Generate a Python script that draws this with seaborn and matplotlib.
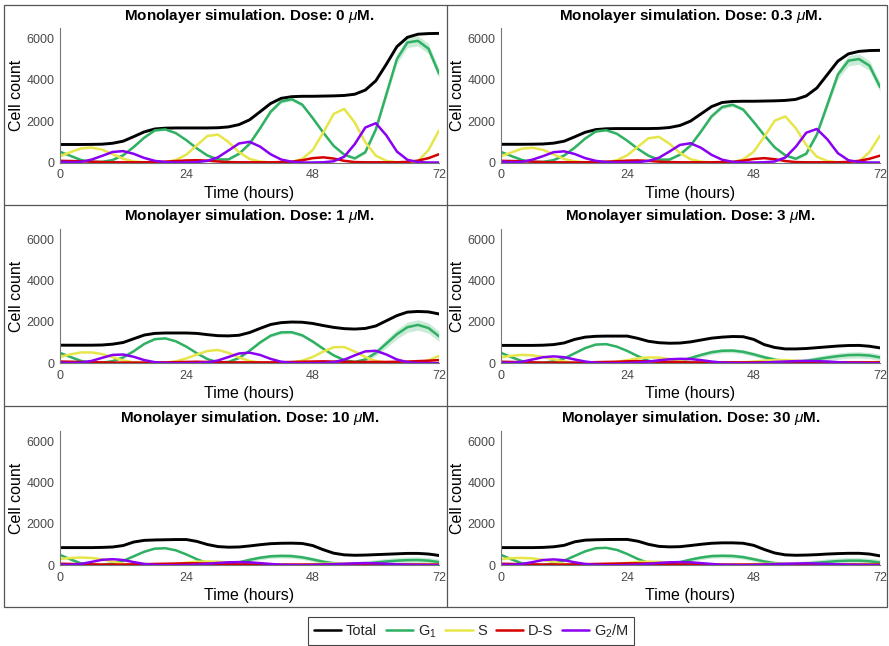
import numpy as np
import pandas as pd
import matplotlib
matplotlib.use("Agg")
import matplotlib.pyplot as plt
import seaborn as sns
from matplotlib.lines import Line2D

# eixo do tempo (horas), amostras a cada 2 h
hours = list(range(0, 73, 2))
doses = ["0", "0.3", "1", "3", "10", "30"]
phases = ["G1", "S", "D-S", "G2/M"]
legend_labels = ["Total", "G$_1$", "S", "D-S", "G$_2$/M"]

# --- Dose 0 uM ---
total_0 = [870, 870, 870, 875, 885, 930, 1030, 1250, 1480, 1620, 1660, 1670, 1670, 1670, 1670, 1680, 1720, 1830, 2060,
           2450, 2850, 3100, 3180, 3200, 3200, 3210, 3220, 3240, 3300, 3500, 3950, 4750, 5600, 6050, 6200, 6230, 6240]
g1_0 = [520, 320, 120, 30, 30, 120, 350, 750, 1200, 1550, 1600, 1420, 1080, 680, 340, 150, 150, 420, 900,
        1650, 2450, 2950, 3060, 2800, 2150, 1450, 800, 380, 200, 500, 1600, 3300, 5000, 5800, 5880, 5500, 4300]
s_0 = [300, 500, 680, 720, 620, 400, 180, 50, 10, 0, 20, 120, 380, 830, 1280, 1350, 990, 500, 175,
       45, 0, 0, 20, 170, 600, 1440, 2350, 2590, 1930, 980, 330, 80, 10, 0, 60, 600, 1550]
ds_0 = [80, 70, 60, 40, 20, 10, 10, 10, 10, 20, 40, 70, 100, 110, 90, 50, 20, 10, 10,
        10, 10, 20, 40, 110, 210, 250, 190, 80, 20, 10, 10, 10, 10, 30, 90, 210, 400]
g2_0 = [40, 10, 30, 140, 320, 510, 550, 420, 220, 80, 20, 0, 0, 20, 80, 250, 580, 920, 1000,
        770, 400, 145, 35, 0, 0, 10, 60, 280, 890, 1690, 1900, 1310, 530, 130, 20, 0, 0]
g1_sd_0 = [30, 30, 30, 30, 30, 30, 30, 40, 40, 40, 40, 40, 40, 40, 40, 40, 40, 50, 60,
           70, 80, 90, 90, 90, 90, 80, 70, 60, 60, 80, 120, 180, 220, 250, 250, 240, 230]

# --- Dose 0.3 uM ---
total_03 = [880, 880, 880, 885, 895, 935, 1030, 1240, 1460, 1590, 1630, 1640, 1640, 1640, 1640, 1650, 1690, 1790, 2000,
            2350, 2700, 2900, 2950, 2960, 2960, 2970, 2980, 3000, 3050, 3220, 3600, 4250, 4900, 5250, 5370, 5410, 5420]
g1_03 = [510, 310, 120, 30, 30, 115, 340, 720, 1160, 1500, 1560, 1390, 1050, 660, 330, 140, 140, 380, 820,
         1500, 2230, 2680, 2790, 2560, 1960, 1320, 730, 350, 180, 430, 1350, 2800, 4250, 4920, 5000, 4680, 3650]
s_03 = [300, 490, 670, 710, 610, 390, 170, 50, 10, 0, 20, 110, 350, 760, 1170, 1240, 910, 460, 160,
        40, 0, 0, 20, 150, 520, 1240, 2020, 2230, 1660, 840, 280, 70, 10, 0, 50, 500, 1300]
ds_03 = [80, 70, 60, 40, 20, 10, 10, 10, 10, 20, 40, 60, 90, 100, 80, 40, 20, 10, 10,
         10, 10, 20, 30, 90, 170, 210, 160, 70, 20, 10, 10, 10, 10, 30, 80, 180, 330]
g2_03 = [40, 10, 30, 140, 310, 500, 540, 410, 210, 80, 20, 0, 0, 20, 75, 230, 530, 850, 930,
         710, 370, 135, 30, 0, 0, 10, 50, 240, 760, 1440, 1620, 1120, 450, 110, 20, 0, 0]
g1_sd_03 = [30, 30, 30, 30, 30, 30, 30, 40, 40, 40, 40, 40, 40, 40, 40, 40, 40, 50, 60,
            70, 80, 90, 90, 90, 90, 80, 70, 60, 60, 80, 120, 180, 220, 250, 250, 240, 230]

# --- Dose 1 uM ---
total_1 = [870, 870, 870, 870, 880, 920, 1000, 1180, 1360, 1440, 1460, 1460, 1460, 1440, 1380, 1330, 1320, 1350, 1480,
           1680, 1870, 1960, 1990, 1980, 1920, 1820, 1730, 1670, 1650, 1680, 1800, 2050, 2300, 2470, 2500, 2480, 2380]
g1_1 = [500, 300, 110, 20, 20, 100, 280, 580, 930, 1160, 1200, 1060, 800, 480, 200, 40, 60, 250, 600,
        1000, 1330, 1490, 1500, 1350, 1050, 700, 380, 150, 60, 180, 500, 950, 1400, 1740, 1850, 1700, 1300]
s_1 = [300, 430, 520, 520, 440, 290, 130, 40, 10, 0, 20, 90, 230, 420, 590, 640, 500, 280, 110,
       30, 0, 0, 30, 120, 300, 560, 770, 780, 560, 300, 110, 30, 0, 0, 30, 130, 350]
ds_1 = [80, 70, 60, 50, 40, 30, 30, 30, 30, 30, 40, 50, 60, 70, 60, 50, 40, 40, 40,
        40, 40, 50, 60, 70, 80, 90, 80, 70, 60, 60, 60, 60, 70, 80, 100, 120, 150]
g2_1 = [30, 10, 30, 110, 260, 400, 420, 310, 150, 50, 10, 0, 0, 10, 40, 130, 300, 470, 510,
        400, 210, 70, 15, 0, 0, 10, 50, 170, 380, 570, 600, 420, 180, 50, 10, 0, 0]
g1_sd_1 = [30, 30, 30, 30, 30, 30, 30, 30, 30, 30, 30, 30, 30, 30, 30, 30, 30, 40, 50,
           60, 70, 80, 80, 80, 80, 70, 60, 60, 70, 100, 150, 200, 230, 250, 250, 250, 250]

# --- Dose 3 uM ---
total_3 = [860, 860, 860, 860, 870, 900, 980, 1150, 1260, 1300, 1310, 1310, 1310, 1200, 1060, 990, 965, 975, 1030,
           1120, 1210, 1260, 1290, 1280, 1150, 900, 760, 690, 690, 710, 750, 790, 830, 855, 860, 820, 740]
g1_3 = [500, 290, 100, 20, 20, 90, 230, 480, 730, 900, 920, 800, 590, 340, 120, 20, 30, 110, 250,
        400, 530, 600, 610, 550, 430, 290, 170, 90, 70, 110, 190, 270, 340, 390, 400, 370, 280]
s_3 = [280, 360, 400, 380, 300, 190, 80, 20, 0, 0, 10, 60, 150, 230, 280, 270, 200, 110, 40,
       10, 0, 0, 10, 40, 80, 120, 150, 150, 120, 80, 40, 20, 10, 10, 20, 40, 60]
ds_3 = [70, 60, 50, 40, 30, 30, 30, 30, 40, 50, 60, 70, 90, 100, 90, 70, 60, 50, 40,
        40, 40, 40, 40, 40, 40, 40, 40, 40, 40, 40, 40, 40, 40, 40, 40, 40, 40]
g2_3 = [30, 20, 70, 180, 290, 330, 290, 180, 80, 20, 0, 0, 10, 30, 80, 140, 190, 210, 200,
        150, 80, 30, 10, 0, 10, 30, 60, 80, 100, 110, 100, 80, 50, 20, 10, 0, 0]
g1_sd_3 = [20, 20, 20, 20, 20, 20, 20, 20, 20, 20, 20, 20, 20, 20, 20, 20, 30, 50, 80,
           100, 100, 100, 100, 100, 100, 100, 100, 110, 120, 130, 140, 150, 150, 150, 150, 150, 150]

# --- Dose 10 uM ---
total_10 = [850, 850, 850, 850, 860, 880, 950, 1120, 1200, 1220, 1230, 1240, 1240, 1150, 1000, 900, 870, 880, 930,
            990, 1040, 1060, 1065, 1050, 950, 750, 580, 500, 480, 490, 510, 530, 550, 570, 570, 540, 470]
g1_10 = [500, 280, 90, 20, 20, 80, 210, 430, 650, 800, 820, 720, 520, 290, 100, 40, 60, 140, 260,
         360, 430, 450, 440, 380, 280, 170, 90, 50, 50, 80, 130, 180, 220, 245, 250, 220, 150]
s_10 = [300, 350, 370, 350, 280, 170, 70, 20, 0, 0, 10, 50, 120, 170, 180, 170, 130, 80, 40,
        10, 0, 0, 10, 30, 50, 70, 80, 80, 70, 50, 30, 20, 10, 10, 10, 10, 10]
ds_10 = [70, 60, 50, 40, 30, 30, 30, 40, 50, 60, 70, 80, 90, 90, 80, 60, 50, 40, 40,
         30, 30, 30, 30, 30, 30, 30, 30, 30, 30, 30, 30, 30, 30, 30, 30, 30, 30]
g2_10 = [30, 20, 60, 160, 260, 290, 250, 150, 60, 20, 0, 0, 10, 30, 70, 110, 140, 150, 140,
         100, 60, 20, 10, 0, 10, 30, 50, 70, 90, 100, 90, 70, 40, 20, 10, 0, 0]
g1_sd_10 = [20, 20, 20, 20, 20, 20, 20, 20, 20, 20, 20, 20, 20, 20, 20, 20, 30, 50, 80,
            100, 100, 100, 100, 100, 100, 100, 100, 110, 120, 130, 140, 150, 150, 150, 150, 150, 150]

# --- Dose 30 uM ---
total_30 = [850, 850, 850, 850, 860, 890, 960, 1130, 1210, 1230, 1240, 1245, 1245, 1160, 1010, 910, 885, 895, 950,
            1010, 1060, 1080, 1080, 1060, 960, 760, 590, 500, 480, 490, 510, 540, 560, 575, 575, 540, 450]
g1_30 = [500, 280, 90, 20, 20, 80, 220, 450, 670, 820, 840, 740, 540, 300, 110, 40, 60, 150, 270,
         370, 440, 455, 445, 390, 290, 180, 100, 50, 50, 80, 120, 160, 200, 220, 220, 190, 130]
s_30 = [290, 340, 350, 330, 260, 160, 60, 20, 0, 0, 10, 50, 110, 160, 170, 160, 120, 80, 40,
        10, 0, 0, 10, 30, 50, 60, 70, 70, 60, 50, 30, 20, 10, 10, 10, 10, 10]
ds_30 = [70, 60, 50, 40, 30, 30, 30, 40, 50, 60, 70, 80, 90, 90, 80, 60, 50, 40, 40,
         30, 30, 30, 30, 30, 30, 30, 30, 30, 30, 30, 30, 30, 30, 30, 30, 30, 30]
g2_30 = [30, 20, 60, 150, 250, 280, 240, 140, 60, 20, 0, 0, 10, 30, 70, 110, 140, 150, 140,
         100, 60, 20, 10, 0, 10, 30, 50, 70, 80, 90, 80, 60, 40, 20, 10, 0, 0]
g1_sd_30 = [20, 20, 20, 20, 20, 20, 20, 20, 20, 20, 20, 20, 20, 20, 20, 20, 30, 50, 80,
            100, 100, 100, 100, 100, 100, 100, 100, 110, 120, 130, 140, 150, 150, 150, 150, 150, 150]

paineis = [
    (total_0, g1_0, s_0, ds_0, g2_0, g1_sd_0),
    (total_03, g1_03, s_03, ds_03, g2_03, g1_sd_03),
    (total_1, g1_1, s_1, ds_1, g2_1, g1_sd_1),
    (total_3, g1_3, s_3, ds_3, g2_3, g1_sd_3),
    (total_10, g1_10, s_10, ds_10, g2_10, g1_sd_10),
    (total_30, g1_30, s_30, ds_30, g2_30, g1_sd_30),
]

cores = {"Total": "black", "G1": "#2fb062", "S": "#e6e64a", "D-S": "#d40000", "G2/M": "#8a00f2"}

sns.set_style("white")
plt.rcParams["font.family"] = ["Liberation Sans", "DejaVu Sans"]
plt.rcParams["mathtext.fontset"] = "custom"
plt.rcParams["mathtext.rm"] = "Liberation Sans"
plt.rcParams["mathtext.it"] = "Liberation Sans:italic"
plt.rcParams["mathtext.bf"] = "Liberation Sans:bold"

fig = plt.figure(figsize=(8.89, 6.46), dpi=100)

W, H = 889.0, 646.0
col_left = [60, 501]
row_top = [28, 228.7, 430.7]
ax_w, ax_h = 379, 134.5

for i, (dose, dados) in enumerate(zip(doses, paineis)):
    total, g1, s, ds, g2, g1_sd = dados
    r, c = divmod(i, 2)
    ax = fig.add_axes([col_left[c] / W, 1 - (row_top[r] + ax_h) / H, ax_w / W, ax_h / H])

    g1_arr = np.array(g1)
    sd_arr = np.array(g1_sd)
    ax.fill_between(hours, g1_arr - sd_arr, g1_arr + sd_arr, color=cores["G1"], alpha=0.25, lw=0)

    df_total = pd.DataFrame({"time": hours, "count": total})
    sns.lineplot(data=df_total, x="time", y="count", color="black", linewidth=2.1, errorbar=None, ax=ax)

    df = pd.DataFrame({
        "time": hours * 4,
        "count": g1 + s + ds + g2,
        "phase": np.repeat(phases, len(hours)),
    })
    sns.lineplot(data=df, x="time", y="count", hue="phase", hue_order=phases, palette=cores,
                 linewidth=1.8, errorbar=None, legend=False, ax=ax)

    ax.set_xlim(0, 72)
    ax.set_ylim(0, 6500)
    ax.set_xticks([0, 24, 48, 72])
    ax.set_yticks([0, 2000, 4000, 6000])
    ax.set_title(f"Monolayer simulation. Dose: {dose} $\\mu$M.", fontsize=11, fontweight="bold",
                 pad=6, color="black")
    ax.set_xlabel("Time (hours)", fontsize=11.5, labelpad=3)
    ax.set_ylabel("Cell count", fontsize=11.5, labelpad=2)
    ax.tick_params(labelsize=9, colors="#4a4a4a", direction="in", length=2.5)
    ax.tick_params(axis="x", pad=5)
    ax.tick_params(axis="y", pad=4)
    ax.xaxis.label.set_color("black")
    ax.yaxis.label.set_color("black")
    sns.despine(ax=ax)
    for lado in ["left", "bottom"]:
        ax.spines[lado].set_color("#777777")
        ax.spines[lado].set_linewidth(0.8)

# grade das celulas
borda = "#555555"
fig.add_artist(plt.Rectangle((4 / W, 1 - 607 / H), 883 / W, 602 / H, transform=fig.transFigure,
                             fill=False, ec=borda, lw=0.9))
fig.add_artist(Line2D([447 / W, 447 / W], [1 - 607 / H, 1 - 5 / H], transform=fig.transFigure, color=borda, lw=0.9))
for yp in [205, 406]:
    fig.add_artist(Line2D([4 / W, 887 / W], [1 - yp / H, 1 - yp / H], transform=fig.transFigure, color=borda, lw=0.9))

handles = [Line2D([0], [0], color=cores[k], lw=1.8) for k in ["Total", "G1", "S", "D-S", "G2/M"]]
leg = fig.legend(handles, legend_labels, loc="center", bbox_to_anchor=(471 / W, 1 - 631 / H), ncol=5,
                 fontsize=10.5, handlelength=1.9, handletextpad=0.3, columnspacing=0.6, frameon=True,
                 fancybox=False, edgecolor="#444444", framealpha=1, borderpad=0.35)
leg.get_frame().set_linewidth(0.8)

plt.savefig("out.png", dpi=100)
